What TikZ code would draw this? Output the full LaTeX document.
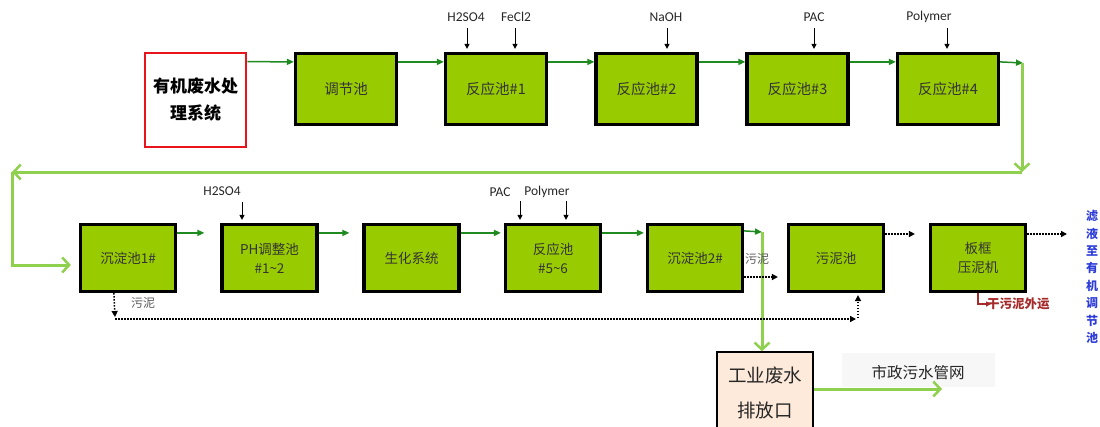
\documentclass[tikz,border=0pt]{standalone}
\usepackage{fontspec}
\setmainfont{Carlito}
\newfontfamily\cjk{Noto Sans CJK SC}
\usetikzlibrary{arrows.meta}
\definecolor{boxgreen}{HTML}{99CC00}
\definecolor{darkgreen}{HTML}{1F8A1F}
\definecolor{lightgreen}{HTML}{8FD14F}
\definecolor{peach}{HTML}{FDEADA}
\definecolor{redline}{HTML}{E8141B}
\definecolor{brownred}{HTML}{A52A2A}
\definecolor{bluetext}{HTML}{2E3DD8}
\definecolor{palegray}{HTML}{F7F7F7}
\begin{document}
\begin{tikzpicture}[x=1pt,y=-1pt,
  tank/.style={draw=black, line width=3.2pt, fill=boxgreen, minimum width=101pt, minimum height=71pt,
    inner sep=0pt, font=\cjk\fontsize{14.5}{19}\selectfont, text=black!80, align=center},
  tanktwo/.style={tank, minimum width=95pt, minimum height=67pt, font=\cjk\fontsize{13.5}{19}\selectfont},
  flow/.style={draw=darkgreen, line width=1.5pt, -{Triangle[length=7pt,width=6pt]}},
  mainflow/.style={draw=lightgreen, line width=3pt, -{Straight Barb[length=7pt,width=15pt,line width=2.5pt]}},
  mainline/.style={draw=lightgreen, line width=3pt},
  sludge/.style={draw=black, line width=1.5pt, dash pattern=on 1.5pt off 1.5pt, -{Triangle[length=6pt,width=6pt]}},
  chemarrow/.style={draw=black, line width=1pt, -{Triangle[length=5pt,width=5pt]}},
  chem/.style={font=\fontsize{13.5}{15}\selectfont, text=black!85, inner sep=0pt},
  smalllab/.style={font=\cjk\fontsize{12}{14}\selectfont, text=black!65, inner sep=0pt}
]
\useasboundingbox (0,0) rectangle (1100,426);

% top row
\node[draw=redline, line width=2.8pt, fill=white, minimum width=101pt, minimum height=94pt, inner sep=0pt,
  font=\cjk\bfseries\fontsize{17}{27}\selectfont, align=center] (src) at (195.5,100) {有机废水处\\理系统};
\node[tank] (t0) at (346,89) {调节池};
\node[tank] (r1) at (496,89) {反应池\#1};
\node[tank] (r2) at (646.5,89) {反应池\#2};
\node[tank] (r3) at (797.5,89) {反应池\#3};
\node[tank] (r4) at (948,89) {反应池\#4};

\draw[flow] ([yshift=-10pt]src.north east) -- ([yshift=-10pt]t0.north west);
\draw[flow] ([yshift=-10pt]t0.north east) -- ([yshift=-10pt]r1.north west);
\draw[flow] ([yshift=-10pt]r1.north east) -- ([yshift=-10pt]r2.north west);
\draw[flow] ([yshift=-10pt]r2.north east) -- ([yshift=-10pt]r3.north west);
\draw[flow] ([yshift=-10pt]r3.north east) -- ([yshift=-10pt]r4.north west);
\coordinate (c1) at (1023,63);
\draw[flow] ([yshift=-10pt]r4.north east) -- (c1);

% chemicals top
\node[chem] (h1) at (466,17) {H2SO4};
\node[chem] (f1) at (516,17) {FeCl2};
\node[chem] (n2) at (666,17) {NaOH};
\node[chem] (p3) at (814,17) {PAC};
\node[chem] (y4) at (929,17) {Polymer};
\coordinate (a1) at (467,28);
\coordinate (a2) at (515,28);
\coordinate (a3) at (667,28);
\coordinate (a4) at (814,28);
\coordinate (a5) at (947,28);
\draw[chemarrow, shorten >=3pt] (a1) -- (a1 |- r1.north);
\draw[chemarrow, shorten >=3pt] (a2) -- (a2 |- r1.north);
\draw[chemarrow, shorten >=3pt] (a3) -- (a3 |- r2.north);
\draw[chemarrow, shorten >=3pt] (a4) -- (a4 |- r3.north);
\draw[chemarrow, shorten >=3pt] (a5) -- (a5 |- r4.north);

% second row
\node[tanktwo] (s1) at (128,258) {沉淀池1\#};
\node[tanktwo] (ph) at (269.5,258) {PH调整池\\\#1\textasciitilde2};
\node[tanktwo] (bio) at (411.5,258) {生化系统};
\node[tanktwo] (r5) at (553,258) {反应池\\\#5\textasciitilde6};
\node[tanktwo] (s2) at (695,258) {沉淀池2\#};
\node[tanktwo] (sp) at (836,258) {污泥池};
\node[tanktwo] (fp) at (978,258) {板框\\压泥机};

% light green main line from top row to bottom row
\coordinate (c1b) at (1022,172);
\coordinate (c3) at (12,172);
\coordinate (c4) at (12,265);
\draw[mainflow] ([xshift=-1pt]c1) -- (c1b);
\draw[mainline] (c1b) -- ([xshift=-1.5pt]c1b);
\draw[mainflow] (c1b) -- (c3);
\draw[mainflow] (c3) -- (c4) -- (c4 -| s1.west) [shorten >=8pt];

\draw[flow, shorten >=16pt] ([yshift=-10pt]s1.north east) -- ([yshift=-10pt]ph.north west);
\draw[flow, shorten >=13pt] ([yshift=-10pt]ph.north east) -- ([yshift=-10pt]bio.north west);
\draw[flow, shorten >=3pt] ([yshift=-10pt]bio.north east) -- ([yshift=-10pt]r5.north west);
\draw[flow, shorten >=2pt] ([yshift=-10pt]r5.north east) -- ([yshift=-10pt]s2.north west);
\coordinate (c2) at (762,232);
\draw[flow] ([yshift=-8pt]s2.north east) -- (c2);

% discharge
\node[draw=black, line width=1.5pt, fill=peach, minimum width=96pt, minimum height=82pt, inner sep=0pt,
  font=\cjk\fontsize{18.5}{35}\selectfont, text=black!85, align=center] (out) at (765,393) {工业废水\\排放口};
\draw[mainflow] (c2) -- (c2 |- out.north);
\fill[palegray] (842,353) rectangle (995,387);
\node[font=\cjk\fontsize{15.5}{17}\selectfont, text=black!85, inner sep=0pt] (city) at (918,373) {市政污水管网};
\coordinate (c5) at (942,389);
\draw[mainflow] ([yshift=4pt]out.east) -- (c5);

% chemicals second row
\node[chem] (h2) at (222,191) {H2SO4};
\node[chem] (p5) at (500,192) {PAC};
\node[chem] (y5) at (547,192) {Polymer};
\coordinate (b1) at (242,202);
\coordinate (b2) at (520,201);
\coordinate (b3) at (566,201);
\draw[chemarrow, shorten >=3pt] (b1) -- (b1 |- ph.north);
\draw[chemarrow, shorten >=3pt] (b2) -- (b2 |- r5.north);
\draw[chemarrow, shorten >=3pt] (b3) -- (b3 |- r5.north);

% sludge lines
\coordinate (d0) at ([xshift=35pt]s1.south west);
\coordinate (d1) at (115,318);
\coordinate (d2) at (858,318);
\draw[sludge, shorten >=1pt] (d0) -- (d1);
\node[smalllab] (sl1) at (143,303) {污泥};
\draw[sludge] ([yshift=-1pt]d1) -- ([yshift=-1pt,xshift=-2pt]d2);
\draw[sludge, shorten >=2pt] (d2) -- (d2 |- sp.south);
\draw[sludge, shorten >=9pt] ([yshift=-19pt]s2.east) -- ([yshift=-19pt]sp.west);
\node[smalllab] (sl2) at (757,259) {污泥};
\draw[sludge, shorten >=14pt] ([yshift=24pt]sp.east) -- ([yshift=24pt]fp.west);
\coordinate (e1) at (1067,234);
\draw[sludge] ([yshift=24pt]fp.east) -- (e1);

% dry sludge
\coordinate (g1) at (978,304);
\coordinate (g2) at (991,304);
\draw[draw=brownred, line width=1.2pt, -{Triangle[length=5pt,width=5pt]}] (g1 |- fp.south) -- (g1) -- (g2);
\node[font=\cjk\bfseries\fontsize{12.5}{14}\selectfont, text=brownred, inner sep=0pt, anchor=west] (dry) at (987,304) {干污泥外运};

% filtrate text
\node[font=\cjk\bfseries\fontsize{12}{17.4}\selectfont, text=bluetext, align=center, inner sep=0pt] (filt) at (1092,277)
  {滤\\液\\至\\有\\机\\调\\节\\池};
\end{tikzpicture}
\end{document}
